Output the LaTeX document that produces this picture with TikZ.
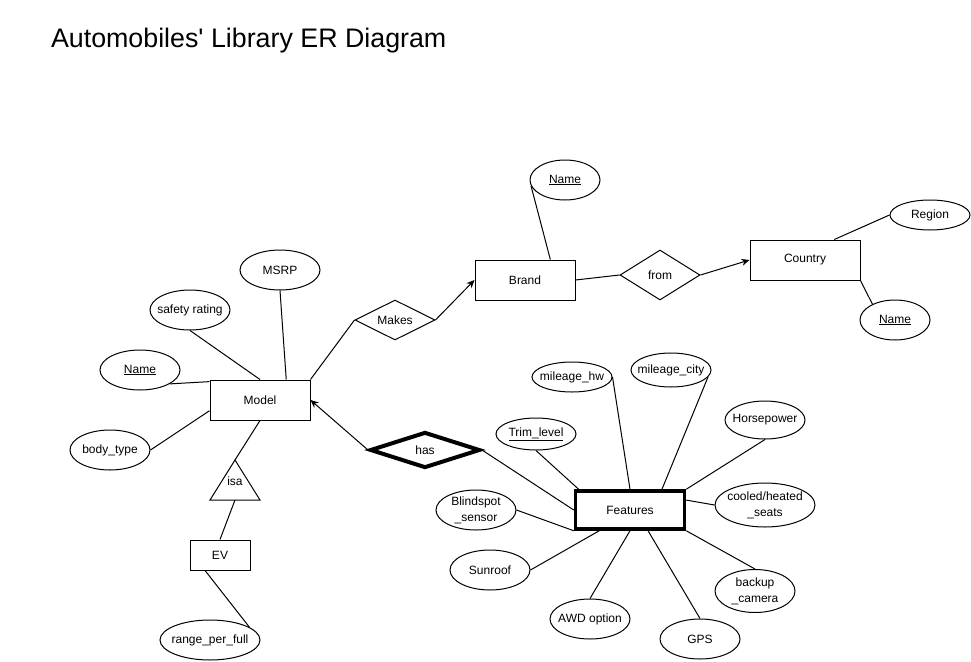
\documentclass[tikz,border=0pt]{standalone}
\usepackage{fontspec}
\setmainfont{Liberation Sans}
\usetikzlibrary{arrows.meta, shapes.geometric}

\begin{document}
\begin{tikzpicture}[
    x=1pt, y=-1pt, % Work in pixel-like units, y downwards
    >={Stealth[length=8pt, width=7pt]}, % Arrow tip
    font=\fontsize{12}{15}\selectfont, % Default text
    every label/.style={align=center}, % Text inside ellipses
    entity/.style={draw, line width=1pt, inner sep=0pt, minimum width=100pt, minimum height=40pt}, % Entity box
    weakentity/.style={entity, line width=3.5pt, minimum width=109pt, minimum height=38pt}, % Bold entity box
    rel/.style={diamond, aspect=2, draw, line width=1pt, inner sep=0pt, minimum width=80pt, minimum height=40pt}, % Relationship
    weakrel/.style={rel, line width=4pt, minimum width=110pt, minimum height=36pt}, % Bold relationship
    attr/.style={ellipse, draw, line width=1pt, inner sep=0pt, minimum width=80pt, minimum height=40pt}, % Attribute
    link/.style={line width=1pt} % Connector
]

    % Page
    \path[fill=white, use as bounding box] (0,0) rectangle (971,661);

    % Title
    \node[anchor=base west, font=\fontsize{26.8}{32}\selectfont] (title) at (47.5,47.3) {Automobiles\textquotesingle{} Library ER Diagram};

    % Entities
    \node[entity] (model) at (260,400) {Model};
    \node[entity, minimum width=60pt, minimum height=30pt] (ev) at (220,555) {EV};
    \node[entity] (brand) at (525,280) {Brand};
    \node[entity, minimum width=110pt] (country) at (805,260) {Country};
    \node[weakentity] (features) at (630,510) {Features};

    % Relationships
    \node[rel] (makes) at (395,320) {Makes};
    \node[rel, minimum height=50pt] (from) at (660,275) {from};
    \node[weakrel] (has) at (425,450) {has};

    % isa triangle
    \coordinate (isatop)  at (235,460);
    \coordinate (isabase) at (235,500);
    \draw[link] (isatop) -- (260,500) -- (210,500) -- cycle;
    \node (isa) at (235,481) {isa};

    % Attributes of Model
    \node[attr, label=center:{\underline{Name}}] (mname) at (140,370) {};
    \node[attr, label=center:{safety rating}] (safety) at (190,310) {};
    \node[attr, label=center:{MSRP}] (msrp) at (280,270) {};
    \node[attr, label=center:{body\_type}] (bodytype) at (110,450) {};
    \node[attr, minimum width=100pt, label=center:{range\_per\_full}] (range) at (210,640) {};

    % Attributes of Brand and Country
    \node[attr, minimum width=70pt, label=center:{\underline{Name}}] (bname) at (565,180) {};
    \node[attr, minimum height=30pt, label=center:{Region}] (region) at (930,215) {};
    \node[attr, minimum width=70pt, label=center:{\underline{Name}}] (cname) at (895,320) {};

    % Attributes of Features
    \node[attr, minimum height=32pt, label=center:{\underline{Trim\_level}}] (trim) at (536,434) {};
    \node[attr, minimum height=30pt, label=center:{mileage\_hw}] (hw) at (572,377) {};
    \node[attr, minimum height=34pt, label=center:{mileage\_city}] (city) at (671,370) {};
    \node[attr, minimum height=38pt, label=center:{Horsepower}] (hp) at (765,420) {};
    \node[attr, minimum width=100pt, minimum height=44pt, label=center:{cooled/heated\\[1pt]\_seats}] (seats) at (765,505) {};
    \node[attr, minimum height=43pt, label=center:{backup\\[1pt]\_camera}] (backup) at (755,591) {};
    \node[attr, label=center:{GPS}] (gps) at (700,639) {};
    \node[attr, label=center:{AWD option}] (awd) at (590,619) {};
    \node[attr, label=center:{Sunroof}] (sunroof) at (490,570) {};
    \node[attr, label=center:{Blindspot\\[1pt]\_sensor}] (blind) at (476,510) {};

    % Model connectors
    \draw[link] (mname.-25) -- (model.160);
    \draw[link] (safety.south) -- (model.north);
    \draw[link] (msrp.south) -- (model.38);
    \draw[link] (bodytype.east) -- (model.192);
    \draw[link] (model.south) -- (isatop);
    \draw[link] (isabase) -- (ev.north);
    \draw[link] (ev.226) -- (range.18);

    % Brand and Country connectors
    \draw[link] (model.north east) -- (makes.west);
    \draw[link, ->] (makes.east) -- (brand.west);
    \draw[link] (bname.190) -- (brand.39);
    \draw[link] (brand.east) -- (from.west);
    \draw[link, ->] (from.east) -- (country.west);
    \draw[link] (country.35) -- (region.west);
    \draw[link] (country.south east) -- (cname.145);

    % Features connectors
    \draw[link, ->] (has.west) -- (model.east);
    \draw[link] (has.east) -- (features.west);
    \draw[link] (trim.south) -- (features.158);
    \draw[link] (hw.east) -- (features.north);
    \draw[link] (city.-11) -- (features.33);
    \draw[link] (hp.south) -- (features.north east);
    \draw[link] (features.10) -- (seats.west);
    \draw[link] (features.south east) -- (backup.north);
    \draw[link] (features.-49) -- (gps.north);
    \draw[link] (features.south) -- (awd.north);
    \draw[link] (features.214) -- (sunroof.east);
    \draw[link] (blind.east) -- (features.south west);

\end{tikzpicture}
\end{document}
